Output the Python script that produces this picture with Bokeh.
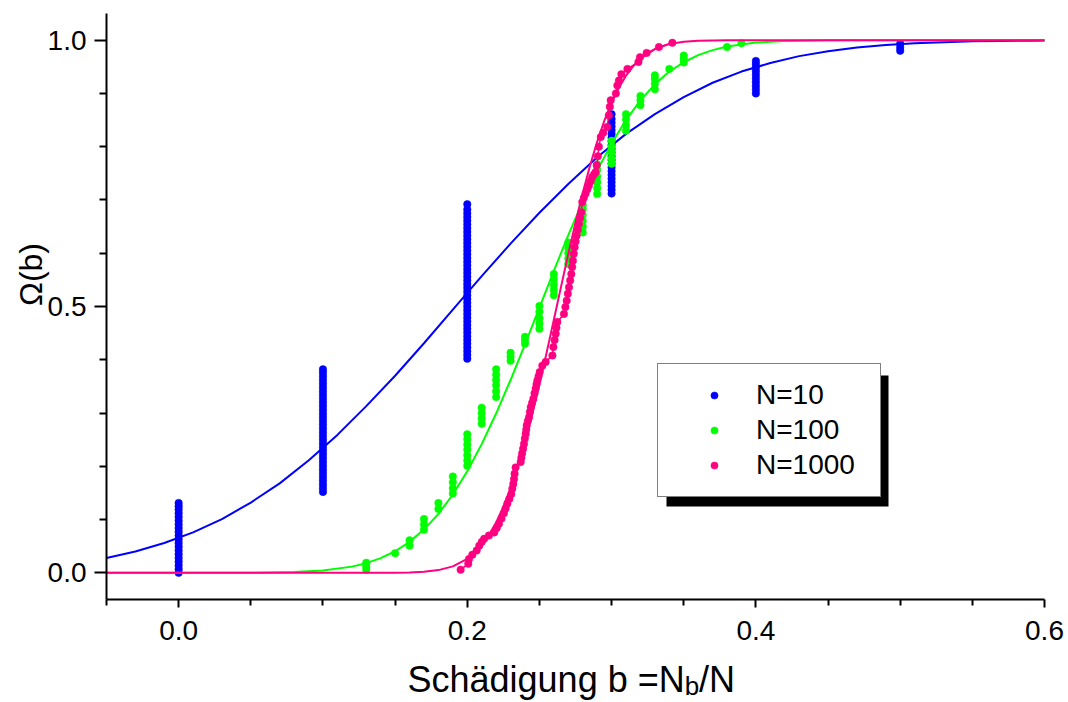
import math
from bokeh.plotting import figure
from bokeh.models import (Range1d, FixedTicker, PrintfTickFormatter, Legend, LegendItem,
                          BoxAnnotation, Label)
from bokeh.embed import file_html
from bokeh.resources import INLINE

# ---------------- data ----------------
# N=10: columns of points at b = 0.0 ... 0.5
n10_at_00 = [0.000, 0.007, 0.014, 0.021, 0.028, 0.035, 0.042, 0.049, 0.056, 0.063, 0.070,
             0.077, 0.084, 0.091, 0.098, 0.105, 0.112, 0.119, 0.125, 0.131]
n10_at_01 = [0.152, 0.159, 0.166, 0.173, 0.180, 0.187, 0.194, 0.201, 0.208, 0.215, 0.222,
             0.229, 0.236, 0.243, 0.250, 0.257, 0.264, 0.271, 0.278, 0.285, 0.292, 0.299,
             0.306, 0.313, 0.320, 0.327, 0.334, 0.341, 0.348, 0.355, 0.362, 0.369, 0.376, 0.382]
n10_at_02 = [0.402, 0.409, 0.416, 0.423, 0.430, 0.437, 0.444, 0.451, 0.458, 0.465, 0.472,
             0.479, 0.486, 0.493, 0.500, 0.507, 0.514, 0.521, 0.528, 0.535, 0.542, 0.549,
             0.556, 0.563, 0.570, 0.577, 0.584, 0.591, 0.598, 0.605, 0.612, 0.619, 0.626,
             0.633, 0.640, 0.647, 0.654, 0.661, 0.668, 0.675, 0.682, 0.692]
n10_at_03 = [0.712, 0.719, 0.726, 0.733, 0.740, 0.747, 0.754, 0.761, 0.768, 0.775, 0.782,
             0.789, 0.796, 0.803, 0.810, 0.817, 0.824, 0.831, 0.838, 0.845, 0.852, 0.861]
n10_at_04 = [0.900, 0.907, 0.914, 0.921, 0.928, 0.935, 0.942, 0.949, 0.955, 0.961]
n10_at_05 = [0.980, 0.986, 0.993]
n10_columns_b = [0.0, 0.1, 0.2, 0.3, 0.4, 0.5]

# N=100 points
n100_b = [0.13, 0.13, 0.13, 0.15, 0.16, 0.16, 0.17, 0.17, 0.17, 0.18, 0.18,
          0.19, 0.19, 0.19, 0.19,
          0.20, 0.20, 0.20, 0.20, 0.20, 0.20, 0.20,
          0.21, 0.21, 0.21, 0.21,
          0.22, 0.22, 0.22, 0.22, 0.22, 0.22,
          0.23, 0.23, 0.23, 0.24, 0.24, 0.24,
          0.25, 0.25, 0.25, 0.25, 0.25,
          0.26, 0.26, 0.26, 0.26, 0.26,
          0.27, 0.27, 0.27, 0.27, 0.27,
          0.28, 0.28, 0.28, 0.28, 0.28, 0.28,
          0.29, 0.29, 0.29, 0.29, 0.29, 0.29,
          0.30, 0.30, 0.30, 0.30, 0.30,
          0.31, 0.31, 0.31, 0.31,
          0.32, 0.32, 0.32,
          0.33, 0.33, 0.33, 0.33,
          0.34, 0.35, 0.35, 0.35, 0.38, 0.39]
n100_omega = [0.006, 0.012, 0.019, 0.037, 0.051, 0.061, 0.081, 0.091, 0.101, 0.120, 0.131,
              0.149, 0.159, 0.170, 0.181,
              0.201, 0.211, 0.221, 0.231, 0.241, 0.251, 0.260,
              0.280, 0.290, 0.300, 0.310,
              0.330, 0.341, 0.352, 0.362, 0.372, 0.382,
              0.398, 0.406, 0.413, 0.430, 0.437, 0.443,
              0.458, 0.468, 0.478, 0.490, 0.501,
              0.521, 0.531, 0.541, 0.551, 0.561,
              0.580, 0.590, 0.600, 0.610, 0.620,
              0.639, 0.650, 0.661, 0.672, 0.682, 0.690,
              0.711, 0.722, 0.733, 0.744, 0.756, 0.767,
              0.768, 0.778, 0.789, 0.800, 0.811,
              0.830, 0.840, 0.851, 0.861,
              0.878, 0.887, 0.895,
              0.908, 0.918, 0.927, 0.934,
              0.946, 0.958, 0.965, 0.971, 0.987, 0.994]

# N=1000 points
n1000_b = [0.1954, 0.2007, 0.2012, 0.2035, 0.2065, 0.2083, 0.2100, 0.2117, 0.2150, 0.2187,
           0.2204, 0.2220, 0.2237, 0.2254, 0.2266, 0.2278, 0.2292, 0.2305, 0.2312, 0.2319,
           0.2324, 0.2328, 0.2335, 0.2370, 0.2375, 0.2380, 0.2387, 0.2393, 0.2399, 0.2405,
           0.2409, 0.2412, 0.2420, 0.2428, 0.2434, 0.2440, 0.2449, 0.2458, 0.2466, 0.2474,
           0.2480, 0.2486, 0.2494, 0.2502, 0.2520, 0.2543, 0.2590, 0.2597, 0.2605, 0.2613,
           0.2618, 0.2624, 0.2670, 0.2680, 0.2689, 0.2697, 0.2705, 0.2713, 0.2721, 0.2727,
           0.2732, 0.2738, 0.2744, 0.2751, 0.2758, 0.2766, 0.2774, 0.2782, 0.2790, 0.2797,
           0.2808, 0.2820, 0.2832, 0.2843, 0.2855, 0.2866, 0.2878, 0.2889, 0.2897, 0.2905,
           0.2912, 0.2925, 0.2942, 0.2970, 0.2981, 0.2988, 0.2994, 0.3030, 0.3040, 0.3051,
           0.3068, 0.3110, 0.3186, 0.3197, 0.3243, 0.3328, 0.3421]
n1000_omega = [0.006, 0.017, 0.026, 0.034, 0.042, 0.051, 0.058, 0.064, 0.070, 0.076,
               0.084, 0.092, 0.102, 0.112, 0.121, 0.130, 0.139, 0.148, 0.158, 0.167,
               0.176, 0.186, 0.198, 0.208, 0.216, 0.224, 0.233, 0.242, 0.252, 0.261,
               0.269, 0.277, 0.285, 0.292, 0.302, 0.311, 0.319, 0.327, 0.337, 0.346,
               0.354, 0.361, 0.369, 0.377, 0.389, 0.396, 0.408, 0.424, 0.437, 0.449,
               0.460, 0.471, 0.486, 0.499, 0.511, 0.524, 0.536, 0.549, 0.561, 0.574,
               0.586, 0.599, 0.611, 0.622, 0.633, 0.644, 0.655, 0.666, 0.677, 0.696,
               0.704, 0.712, 0.720, 0.727, 0.735, 0.743, 0.748, 0.752, 0.765, 0.782,
               0.800, 0.818, 0.826, 0.837, 0.859, 0.875, 0.887, 0.900, 0.915, 0.924,
               0.936, 0.946, 0.959, 0.968, 0.976, 0.987, 0.995]

# fitted curves
fit10_b = [-0.05, -0.03, -0.01, 0.01, 0.03, 0.05, 0.07, 0.09, 0.11, 0.13, 0.15, 0.17,
           0.19, 0.21, 0.23, 0.25, 0.27, 0.29, 0.31, 0.33, 0.35, 0.37, 0.39, 0.41,
           0.43, 0.45, 0.47, 0.49, 0.51, 0.53, 0.55, 0.57, 0.59, 0.60]
fit10_omega = [0.028, 0.040, 0.056, 0.076, 0.101, 0.132, 0.168, 0.211, 0.259, 0.313,
               0.370, 0.431, 0.494, 0.557, 0.618, 0.676, 0.730, 0.780, 0.824, 0.861,
               0.893, 0.920, 0.941, 0.957, 0.970, 0.979, 0.986, 0.991, 0.994, 0.996,
               0.998, 0.9985, 0.999, 0.9993]
fit100_b = [-0.05, 0.0, 0.05, 0.08, 0.10, 0.12, 0.13, 0.14, 0.15, 0.16, 0.17, 0.18, 0.19,
            0.20, 0.21, 0.22, 0.23, 0.24, 0.25, 0.26, 0.27, 0.28, 0.29, 0.30, 0.31, 0.32,
            0.33, 0.34, 0.35, 0.36, 0.37, 0.38, 0.40, 0.42, 0.45, 0.50, 0.60]
fit100_omega = [0.0, 0.0, 0.0002, 0.0015, 0.0045, 0.0117, 0.0182, 0.0276, 0.0406, 0.0582,
                0.0812, 0.1107, 0.1471, 0.1908, 0.2417, 0.2991, 0.362, 0.429, 0.498, 0.567,
                0.634, 0.697, 0.755, 0.806, 0.850, 0.887, 0.917, 0.941, 0.9585, 0.9718,
                0.9813, 0.9880, 0.9954, 0.9984, 0.9997, 1.0, 1.0]
fit1000_b = [-0.05, 0.10, 0.15, 0.16, 0.17, 0.18, 0.19, 0.20, 0.21, 0.215, 0.22, 0.225,
             0.23, 0.235, 0.24, 0.245, 0.25, 0.255, 0.26, 0.265, 0.27, 0.275, 0.28, 0.285,
             0.29, 0.295, 0.30, 0.305, 0.31, 0.315, 0.32, 0.33, 0.34, 0.35, 0.36, 0.38,
             0.40, 0.60]
fit1000_omega = [0.0, 0.0, 0.0002, 0.0007, 0.0020, 0.0052, 0.0122, 0.0263, 0.0521, 0.0710,
                 0.0947, 0.1238, 0.1587, 0.1994, 0.2459, 0.2976, 0.3538, 0.4134, 0.4751,
                 0.5373, 0.5987, 0.6577, 0.7131, 0.7639, 0.8092, 0.8488, 0.8825, 0.9105,
                 0.9332, 0.9511, 0.9650, 0.9832, 0.9926, 0.9970, 0.9989, 0.9999, 1.0, 1.0]

series_labels = ["N=10", "N=100", "N=1000"]
x_major = [0.0, 0.2, 0.4, 0.6]
x_minor = [-0.05, 0.05, 0.1, 0.15, 0.25, 0.3, 0.35, 0.45, 0.5, 0.55]
y_major = [0.0, 0.5, 1.0]
y_minor = [0.1, 0.2, 0.3, 0.4, 0.6, 0.7, 0.8, 0.9]
x_axis_bounds = (-0.05, 0.6)
y_axis_bounds = (-0.05, 1.05)

# ---------------- figure ----------------
FONT = "Liberation Sans"
BLUE, GREEN, PINK = "#0000FF", "#00FF00", "#FF0080"
W, H = 1068, 702
# plot box (axes) in pixels: left 106, right 1044, top 13, bottom 599
px_per_x = (1044 - 106) / (x_axis_bounds[1] - x_axis_bounds[0])
px_per_y = (599 - 13) / (y_axis_bounds[1] - y_axis_bounds[0])
x_range = Range1d(x_axis_bounds[0] - 106 / px_per_x, x_axis_bounds[1] + (W - 1044) / px_per_x)
y_range = Range1d(y_axis_bounds[0] - (H - 599) / px_per_y, y_axis_bounds[1] + 13 / px_per_y)

p = figure(width=W, height=H, x_range=x_range, y_range=y_range,
           output_backend="svg", toolbar_location=None,
           min_border_left=0, min_border_right=0, min_border_top=0, min_border_bottom=0)
p.outline_line_color = None
p.xgrid.grid_line_color = None
p.ygrid.grid_line_color = None
p.background_fill_color = "white"
p.border_fill_color = "white"

xa = p.xaxis[0]
xa.fixed_location = y_axis_bounds[0]
xa.bounds = x_axis_bounds
xa.ticker = FixedTicker(ticks=x_major, minor_ticks=x_minor)
xa.formatter = PrintfTickFormatter(format="%.1f")
xa.major_tick_out, xa.major_tick_in = 8, 0
xa.minor_tick_out, xa.minor_tick_in = 6, 0
xa.major_label_standoff = 13

ya = p.yaxis[0]
ya.fixed_location = x_axis_bounds[0]
ya.bounds = y_axis_bounds
ya.ticker = FixedTicker(ticks=y_major, minor_ticks=y_minor)
ya.formatter = PrintfTickFormatter(format="%.1f")
ya.major_tick_out, ya.major_tick_in = 12, 0
ya.minor_tick_out, ya.minor_tick_in = 7, 0
ya.major_label_standoff = 8

for ax in (xa, ya):
    ax.axis_line_width = 2
    ax.major_tick_line_width = 2
    ax.minor_tick_line_width = 2
    ax.axis_line_color = "black"
    ax.major_tick_line_color = "black"
    ax.minor_tick_line_color = "black"
    ax.major_label_text_font = FONT
    ax.major_label_text_font_size = "28px"
    ax.major_label_text_color = "black"

# ---------------- glyphs ----------------
n10_b, n10_omega = [], []
for bval, col in zip(n10_columns_b, [n10_at_00, n10_at_01, n10_at_02, n10_at_03, n10_at_04, n10_at_05]):
    n10_b += [bval] * len(col)
    n10_omega += col

MS = 7.5
s10 = p.scatter(n10_b, n10_omega, size=MS, fill_color=BLUE, line_color=BLUE, line_width=0.5)
p.line(fit10_b, fit10_omega, line_color=BLUE, line_width=2)
s100 = p.scatter(n100_b, n100_omega, size=MS, fill_color=GREEN, line_color=GREEN, line_width=0.5)
p.line(fit100_b, fit100_omega, line_color=GREEN, line_width=2)
s1000 = p.scatter(n1000_b, n1000_omega, size=MS, fill_color=PINK, line_color=PINK, line_width=0.5)
p.line(n1000_b, n1000_omega, line_color=PINK, line_width=1.5)
p.line(fit1000_b, fit1000_omega, line_color=PINK, line_width=2)

# ---------------- axis titles (positions derived from pixel layout) ----------------
def dx(px):
    return x_axis_bounds[0] + (px - 106) / px_per_x

def dy(py):
    return y_axis_bounds[0] + (599 - py) / px_per_y

p.add_layout(Label(x=dx(30), y=dy(274), text="Ω(b)", angle=math.pi / 2,
                   text_align="center", text_baseline="middle",
                   text_font=FONT, text_font_size="32px", text_color="black"))
main_px, sub_px = 36, 26
main_w = 7.699 * main_px      # width of "Schädigung b =N"
sub_w = 0.556 * sub_px        # width of subscript "b"
x0 = 407
p.add_layout(Label(x=dx(x0), y=dy(679), text="Schädigung b =N", text_align="left",
                   text_baseline="alphabetic", text_font=FONT, text_font_size=f"{main_px}px",
                   text_color="black"))
p.add_layout(Label(x=dx(x0 + main_w), y=dy(685), text="b", text_align="left",
                   text_baseline="alphabetic", text_font=FONT, text_font_size=f"{sub_px}px",
                   text_color="black"))
p.add_layout(Label(x=dx(x0 + main_w + sub_w), y=dy(679), text="/N", text_align="left",
                   text_baseline="alphabetic", text_font=FONT, text_font_size=f"{main_px}px",
                   text_color="black"))

# ---------------- legend with shadow ----------------
lg_left, lg_top, lg_right, lg_bottom = 657, 366, 879, 497
shadow = BoxAnnotation(left=dx(lg_left + 9), right=dx(lg_right + 9),
                       top=dy(lg_top + 9), bottom=dy(lg_bottom + 9),
                       fill_color="black", fill_alpha=1.0, line_color=None)
p.add_layout(shadow)

legend = Legend(items=[LegendItem(label=series_labels[0], renderers=[s10]),
                       LegendItem(label=series_labels[1], renderers=[s100]),
                       LegendItem(label=series_labels[2], renderers=[s1000])],
                location=(lg_left, H - lg_bottom))
legend.margin = 0
legend.padding = 15
legend.spacing = 3
legend.glyph_width = 82
legend.glyph_height = 18
legend.label_height = 32
legend.label_width = 109
legend.label_standoff = 1
legend.label_text_font = FONT
legend.label_text_font_size = "28px"
legend.label_text_color = "black"
legend.border_line_color = "black"
legend.border_line_width = 1
legend.background_fill_color = "white"
legend.background_fill_alpha = 1.0
p.add_layout(legend)

open("out.html", "w").write(file_html(p, INLINE))
